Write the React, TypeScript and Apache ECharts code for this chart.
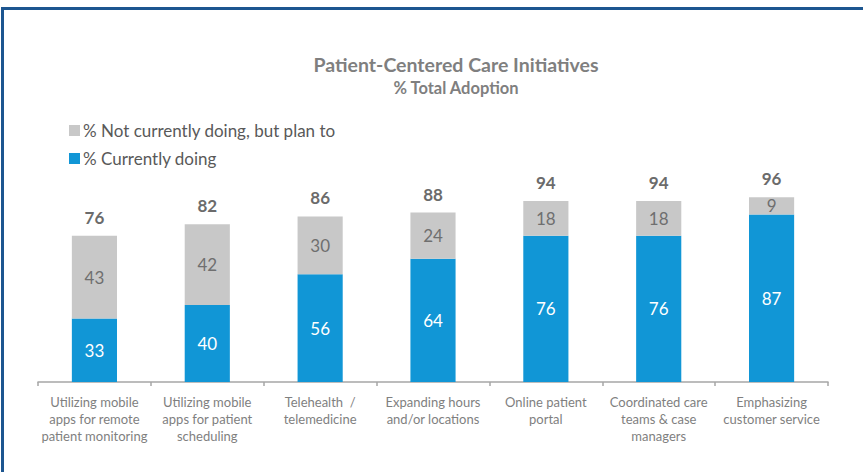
import React, { useEffect, useRef } from "react";
import * as echarts from "echarts";

const categories = [
  "Utilizing mobile\napps for remote\npatient monitoring",
  "Utilizing mobile\napps for patient\nscheduling",
  "Telehealth  /\ntelemedicine",
  "Expanding hours\nand/or locations",
  "Online patient\nportal",
  "Coordinated care\nteams & case\nmanagers",
  "Emphasizing\ncustomer service",
];
const currentlyDoing = [33, 40, 56, 64, 76, 76, 87];
const planTo = [43, 42, 30, 24, 18, 18, 9];
const totals = [76, 82, 86, 88, 94, 94, 96];

const FONT = "Lato, 'Open Sans', sans-serif";

export default function App() {
  const ref = useRef<HTMLDivElement>(null);
  useEffect(() => {
    if (!ref.current) return;
    const chart = echarts.init(ref.current, null, { renderer: "svg" });
    chart.setOption({
      animation: false,
      backgroundColor: "#ffffff",
      textStyle: { fontFamily: FONT },
      title: {
        text: "Patient-Centered Care Initiatives",
        subtext: "% Total Adoption",
        left: 451,
        textAlign: "center",
        top: 49,
        itemGap: 5,
        textStyle: { fontFamily: FONT, fontSize: 19.5, fontWeight: "bold", color: "#7f7f7f" },
        subtextStyle: { fontFamily: FONT, fontSize: 16.5, fontWeight: "bold", color: "#7f7f7f" },
      },
      legend: {
        orient: "vertical",
        left: 64,
        top: 116,
        itemWidth: 11,
        itemHeight: 11,
        itemGap: 9,
        icon: "rect",
        data: ["% Not currently doing, but plan to", "% Currently doing"],
        textStyle: { fontFamily: FONT, fontSize: 17, color: "#595959", lineHeight: 19, padding: [0, 0, 0, -2] },
      },
      graphic: [
        { type: "rect", shape: { x: 1, y: 7, width: 870, height: 3 }, style: { fill: "#1d5690" } },
        { type: "rect", shape: { x: 1, y: 7, width: 3, height: 470 }, style: { fill: "#1d5690" } },
      ],
      grid: { left: 38, right: 35, top: 189.5, bottom: 90, containLabel: false },
      xAxis: {
        type: "category",
        data: categories,
        axisLine: { lineStyle: { color: "#a6a6a6", width: 1.5 } },
        axisTick: { show: true, length: 4, lineStyle: { color: "#a6a6a6", width: 1.5 } },
        axisLabel: {
          interval: 0,
          color: "#7f7f7f",
          fontFamily: FONT,
          fontSize: 13,
          lineHeight: 17.2,
          margin: 11,
        },
      },
      yAxis: { type: "value", min: 0, max: 100, show: false, splitLine: { show: false } },
      series: [
        {
          name: "% Currently doing",
          type: "bar",
          stack: "a",
          data: currentlyDoing,
          barWidth: "40%",
          itemStyle: { color: "#1196d6" },
          label: { show: true, position: "inside", color: "#ffffff", fontSize: 17, fontFamily: FONT },
        },
        {
          name: "% Not currently doing, but plan to",
          type: "bar",
          stack: "a",
          data: planTo,
          barWidth: "40%",
          itemStyle: { color: "#c8c8c8" },
          label: { show: true, position: "inside", color: "#6f6f6f", fontSize: 17, fontFamily: FONT },
        },
        {
          name: "Total",
          type: "bar",
          data: totals,
          barWidth: "40%",
          barGap: "-100%",
          z: 0,
          silent: true,
          itemStyle: { color: "rgba(0,0,0,0)" },
          label: {
            show: true,
            position: "top",
            distance: 10,
            color: "#6b6b6b",
            fontSize: 17,
            fontWeight: "bold",
            fontFamily: FONT,
          },
        },
      ],
    });
    return () => chart.dispose();
  }, []);
  return <div ref={ref} style={{ width: 863, height: 472, position: "absolute", left: 0, top: 0 }} />;
}
